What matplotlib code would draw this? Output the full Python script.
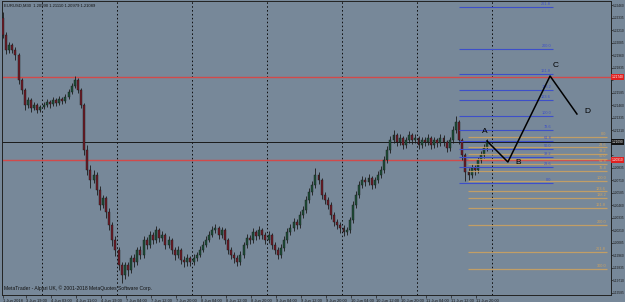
import matplotlib
matplotlib.use("Agg")
import matplotlib.pyplot as plt

# ---------------- data ----------------
symbol_title = "EURUSD,M30  1.20990 1.21110 1.20979 1.21089"
open_first = 1.2233
closes = [1.2216,1.2201,1.2206,1.2201,1.2196,1.2171,1.2161,1.2146,1.2151,1.2143,
          1.2146,1.2141,1.2144,1.2146,1.2149,1.2147,1.2151,1.2148,1.2152,1.2150,
          1.2154,1.2159,1.2165,1.2171,1.2161,1.2146,1.2101,1.2081,1.2071,1.2076,
          1.2061,1.2046,1.2053,1.2039,1.2026,1.2011,1.2001,1.1986,1.1976,1.1986,
          1.1981,1.1993,1.1989,1.2001,1.1996,1.2011,1.2006,1.2016,1.2011,1.2021,
          1.2013,1.2016,1.2006,1.2011,1.2001,1.1996,1.2001,1.1991,1.1989,1.1993,
          1.1989,1.1993,1.1996,1.2001,1.2006,1.2011,1.2016,1.2021,1.2023,1.2016,
          1.2021,1.2011,1.2001,1.1996,1.1993,1.1989,1.1996,1.2006,1.2013,1.2011,
          1.2019,1.2015,1.2021,1.2016,1.2011,1.2016,1.2006,1.2001,1.1996,1.2003,
          1.2011,1.2019,1.2023,1.2029,1.2026,1.2036,1.2041,1.2051,1.2059,1.2066,
          1.2076,1.2071,1.2056,1.2051,1.2046,1.2036,1.2029,1.2026,1.2023,1.2019,
          1.2021,1.2031,1.2046,1.2056,1.2066,1.2071,1.2069,1.2073,1.2066,1.2071,
          1.2076,1.2081,1.2091,1.2101,1.2111,1.2116,1.2109,1.2113,1.2106,1.2111,
          1.2116,1.2111,1.2113,1.2106,1.2111,1.2109,1.2113,1.2106,1.2111,1.2108,
          1.2113,1.2109,1.2103,1.2111,1.2121,1.2129,1.2111,1.2096,1.2079,1.2076,
          1.2083,1.2081,1.2091,1.2096,1.2103,1.2109]
highs = [1.2239,1.2219,1.2209,1.2208,1.2204,1.2198,1.2173,1.2163,1.2154,1.2153,
         1.2149,1.2148,1.2146,1.2149,1.2152,1.2151,1.2154,1.2153,1.2155,1.2154,
         1.2157,1.2162,1.2168,1.2175,1.2173,1.2163,1.2148,1.2106,1.2086,1.2081,
         1.2079,1.2065,1.2056,1.2055,1.2043,1.2029,1.2015,1.2004,1.1989,1.1989,
         1.1989,1.1996,1.1997,1.2004,1.2005,1.2015,1.2014,1.2020,1.2019,1.2025,
         1.2023,1.2020,1.2018,1.2015,1.2013,1.2004,1.2005,1.2003,1.1995,1.1997,
         1.1995,1.1997,1.1999,1.2005,1.2010,1.2015,1.2020,1.2025,1.2027,1.2025,
         1.2024,1.2023,1.2013,1.2004,1.1999,1.1996,1.2000,1.2009,1.2017,1.2016,
         1.2023,1.2021,1.2025,1.2023,1.2019,1.2020,1.2018,1.2009,1.2004,1.2007,
         1.2015,1.2023,1.2027,1.2033,1.2032,1.2040,1.2045,1.2055,1.2063,1.2070,
         1.2083,1.2079,1.2073,1.2059,1.2054,1.2049,1.2039,1.2032,1.2029,1.2026,
         1.2024,1.2034,1.2050,1.2060,1.2070,1.2075,1.2074,1.2077,1.2075,1.2074,
         1.2080,1.2085,1.2095,1.2105,1.2115,1.2121,1.2118,1.2117,1.2115,1.2114,
         1.2120,1.2118,1.2117,1.2115,1.2114,1.2114,1.2117,1.2115,1.2114,1.2113,
         1.2117,1.2116,1.2111,1.2114,1.2125,1.2135,1.2131,1.2113,1.2098,1.2083,
         1.2087,1.2086,1.2094,1.2100,1.2107,1.2112]
lows = [1.2213,1.2197,1.2198,1.2198,1.2191,1.2167,1.2157,1.2141,1.2143,1.2139,
        1.2141,1.2138,1.2139,1.2142,1.2144,1.2143,1.2145,1.2145,1.2146,1.2147,
        1.2148,1.2152,1.2157,1.2163,1.2158,1.2143,1.2096,1.2076,1.2063,1.2068,
        1.2056,1.2041,1.2043,1.2033,1.2021,1.2005,1.1995,1.1981,1.1968,1.1972,
        1.1975,1.1978,1.1984,1.1986,1.1992,1.1993,1.2002,1.2003,1.2007,1.2008,
        1.2009,1.2010,1.2002,1.2003,1.1997,1.1991,1.1993,1.1987,1.1984,1.1985,
        1.1985,1.1986,1.1990,1.1994,1.1999,1.2004,1.2009,1.2014,1.2018,1.2012,
        1.2013,1.2007,1.1997,1.1992,1.1988,1.1985,1.1986,1.1993,1.2003,1.2007,
        1.2008,1.2011,1.2012,1.2012,1.2007,1.2008,1.2002,1.1997,1.1992,1.1993,
        1.2000,1.2008,1.2016,1.2020,1.2022,1.2023,1.2033,1.2038,1.2048,1.2056,
        1.2063,1.2067,1.2052,1.2047,1.2042,1.2032,1.2025,1.2022,1.2018,1.2015,
        1.2016,1.2018,1.2028,1.2043,1.2053,1.2063,1.2065,1.2066,1.2062,1.2063,
        1.2068,1.2073,1.2078,1.2088,1.2098,1.2108,1.2105,1.2106,1.2102,1.2103,
        1.2108,1.2107,1.2108,1.2102,1.2103,1.2105,1.2106,1.2102,1.2103,1.2104,
        1.2105,1.2105,1.2099,1.2100,1.2108,1.2118,1.2107,1.2091,1.2070,1.2071,
        1.2073,1.2076,1.2078,1.2088,1.2093,1.2100]

time_labels = ["1 Jun 2018","3 Jun 19:00","4 Jun 03:00","4 Jun 11:00","4 Jun 19:00",
               "7 Jun 04:00","7 Jun 12:00","7 Jun 20:00","8 Jun 04:00","8 Jun 12:00",
               "8 Jun 20:00","9 Jun 04:00","9 Jun 12:00","9 Jun 20:00","10 Jun 04:00",
               "10 Jun 12:00","10 Jun 20:00","11 Jun 04:00","11 Jun 12:00","11 Jun 20:00"]
time_label_pos = [0,7.5,15.5,23.5,31.5,39.5,47.5,55.5,63.5,71.5,79.5,87.5,95.5,103.5,
                  111.5,119.5,127.5,135.5,143.5,151.5]
day_separators = [12.5,36.5,60.5,84.5,108.5,132.5,156.5]

red_levels = [1.2174, 1.2091]
current_price = 1.2109

fib_blue_ratios = [0.0,23.6,38.2,50.0,61.8,78.6,100.0,123.6,138.2,161.8,200.0,261.8]
fib_blue_p0, fib_blue_p100 = 1.20685, 1.21355
fib_blue_x = (146.0, 176.0)
fib_or_ratios = [0.0,23.6,38.2,50.0,61.8,76.4,100.0,123.6,138.2,161.8,200.0,261.8,300.0]
fib_or_p0, fib_or_p100 = 1.2114, 1.2070
fib_or_x = (148.8, 193.3)

abcd_names = ["A","B","C","D"]
abcd_x = [154.9, 161.6, 175.1, 183.7]
abcd_p = [1.2110, 1.2089, 1.2175, 1.2137]
abcd_label_x = [154.3, 164.8, 176.9, 186.9]
abcd_label_p = [1.2120, 1.2088, 1.2186, 1.2140]

price_ticks = [1.2246 - 0.00125*k for k in range(24)]

# ---------------- style ----------------
BG = "#778899"
BULL = "#1d4f38"
BEAR = "#6e1a26"
WICK = "#1a1a1a"
BLUE = "#3d4fc9"
ORANGE = "#cfa25e"
RED = "#d24a4a"
FONT = ["Liberation Sans", "DejaVu Sans"]

fig = plt.figure(figsize=(6.25, 3.02), dpi=100)
fig.patch.set_facecolor(BG)
ax = fig.add_axes([2/625, 7/302, 609/625, 294/302])
ax.set_facecolor(BG)
ax.set_xlim(-0.3, 194.6)
ax.set_ylim(1.2251 - 0.0001*295, 1.2251 - 0.0001*1)

# day separators
for xs in day_separators:
    ax.axvline(xs, color="#0d0d0d", lw=0.7, ls=(0, (1.6, 2.4)), zorder=1)

# horizontal lines
for lv in red_levels:
    ax.axhline(lv, color=RED, lw=1.0, zorder=2)
ax.axhline(current_price, color="#1a1a1a", lw=0.7, zorder=2)

# candles
opens = [open_first] + closes[:-1]
for i in range(len(closes)):
    o, c, h, l = opens[i], closes[i], highs[i], lows[i]
    ax.vlines(i, l, h, color=WICK, lw=0.6, zorder=3)
    col = BULL if c >= o else BEAR
    body = c - o
    if abs(body) < 0.00003:
        body = 0.00003
    ax.bar(i, body, bottom=o, width=0.62, color=col, edgecolor=WICK,
           linewidth=0.3, zorder=4)

# fib expansion (blue)
for r in fib_blue_ratios:
    lv = fib_blue_p0 + (fib_blue_p100 - fib_blue_p0) * r / 100.0
    ax.hlines(lv, fib_blue_x[0], fib_blue_x[1], color=BLUE, lw=0.8, zorder=5)
    ax.text(fib_blue_x[1] - 0.6, lv + 0.00008, f"{r:.1f}", color=BLUE,
            fontsize=2.8, ha="right", va="bottom", family=FONT, zorder=6)

# fib retracement (orange)
for r in fib_or_ratios:
    lv = fib_or_p0 + (fib_or_p100 - fib_or_p0) * r / 100.0
    ax.hlines(lv, fib_or_x[0], fib_or_x[1], color=ORANGE, lw=0.9, alpha=0.85, zorder=5)
    ax.text(fib_or_x[1] - 0.3, lv + 0.00008, f"{r:.1f}", color=ORANGE,
            fontsize=2.8, ha="right", va="bottom", family=FONT, zorder=6)

# ABCD pattern
ax.plot(abcd_x, abcd_p, color="black", lw=1.1, zorder=7)
for n, lx, lp in zip(abcd_names, abcd_label_x, abcd_label_p):
    ax.text(lx, lp, n, color="black", fontsize=6, ha="center", va="center",
            family=FONT, zorder=8)

# axes / ticks
boxed = red_levels + [current_price]
for s in ax.spines.values():
    s.set_color("#222222")
    s.set_linewidth(0.7)
ax.yaxis.tick_right()
ax.set_yticks(price_ticks)
ax.set_yticklabels(["" if min(abs(p - b) for b in boxed) < 0.0005 else f"{p:.5f}"
                    for p in price_ticks])
ax.set_xticks(time_label_pos)
ax.set_xticklabels(time_labels)
ax.tick_params(axis="y", direction="out", length=1.2, width=0.5, pad=0.3,
               labelsize=2.35, colors="#222222", labelcolor="#1a1a1a")
ax.tick_params(axis="x", direction="out", length=2, width=0.5, pad=0.6,
               labelsize=2.9, colors="#222222", labelcolor="#1a1a1a")
for t in ax.get_xticklabels():
    t.set_horizontalalignment("left")
    t.set_family(FONT)
for t in ax.get_yticklabels():
    t.set_family(FONT)

# price boxes on the right axis
def price_box(p, fc, tc):
    ax.text(1.0012, p, f"{p:.5f}", transform=ax.get_yaxis_transform(),
            fontsize=2.35, color=tc, ha="left", va="center", family=FONT,
            bbox=dict(boxstyle="square,pad=0.2", fc=fc, ec="none"), zorder=10,
            clip_on=False)

for lv in red_levels:
    price_box(lv, "#e02020", "white")
price_box(current_price, "#111111", "white")

# title and footer
ax.text(0.004, 0.992, symbol_title, transform=ax.transAxes, fontsize=3.0,
        color="#111111", ha="left", va="top", family=FONT, zorder=10)
ax.text(0.003, 0.012, "MetaTrader - Alpari UK, \u00a9 2001-2018 MetaQuotes Software Corp.",
        transform=ax.transAxes, fontsize=3.6, color="#111111", ha="left",
        va="bottom", family=FONT, zorder=10)

fig.savefig("out.png", dpi=100, facecolor=BG)
